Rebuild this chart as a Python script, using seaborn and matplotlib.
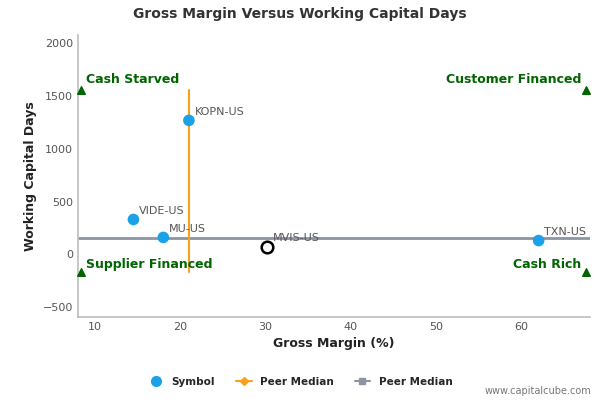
import matplotlib
matplotlib.use("Agg")
import matplotlib.pyplot as plt
import seaborn as sns
import pandas as pd
from matplotlib.lines import Line2D

symbols = ["KOPN-US", "VIDE-US", "MU-US", "TXN-US"]
gross_margin = [21.0, 14.5, 18.0, 62.0]
wc_days = [1270, 330, 160, 130]
focus_symbol = "MVIS-US"
focus_margin = 30.2
focus_days = 70
median_margin = 21.0
median_days = 155
quad_labels = ["Cash Starved", "Customer Financed", "Supplier Financed", "Cash Rich"]

sns.set_theme(style="white")
fig = plt.figure(figsize=(6, 4), dpi=100)
ax = fig.add_axes([0.13, 0.2075, 0.853, 0.705])
df = pd.DataFrame({"gm": gross_margin, "wc": wc_days, "sym": symbols})
xmin, xmax, ymin, ymax = 8.0, 68.0, -595, 2080
ax.set_xlim(xmin, xmax); ax.set_ylim(ymin, ymax)

ax.plot([xmin, xmax], [median_days]*2, color="#8d94a3", lw=2, zorder=1)
ax.plot([median_margin]*2, [-170, 1560], color="#f7a21b", lw=1.5, zorder=1)
sns.scatterplot(data=df, x="gm", y="wc", ax=ax, color="#1aa1e8", s=70, edgecolor="none", zorder=3, legend=False)
ax.scatter([focus_margin], [focus_days], s=70, facecolor="white", edgecolor="black", lw=1.8, zorder=3)
for x, y, s in zip(gross_margin + [focus_margin], wc_days + [focus_days], symbols + [focus_symbol]):
    ax.annotate(s, (x, y), xytext=(4, 4), textcoords="offset points", fontsize=8, color="#555555")

green = "#006400"
cx = [8.4, 67.6, 8.4, 67.6]; cy = [1560, 1560, -170, -170]
ax.scatter(cx, cy, marker="^", color=green, s=30, zorder=3, clip_on=False)
ax.text(8.9, 1620, quad_labels[0], color=green, fontsize=9, fontweight="bold", ha="left")
ax.text(67.0, 1620, quad_labels[1], color=green, fontsize=9, fontweight="bold", ha="right")
ax.text(8.9, -130, quad_labels[2], color=green, fontsize=9, fontweight="bold", ha="left")
ax.text(67.0, -130, quad_labels[3], color=green, fontsize=9, fontweight="bold", ha="right")

ax.set_xticks([10, 20, 30, 40, 50, 60]); ax.set_yticks([-500, 0, 500, 1000, 1500, 2000])
ax.tick_params(labelsize=8, colors="#555555", length=0)
for sp in ["top", "right"]:
    ax.spines[sp].set_visible(False)
for sp in ["left", "bottom"]:
    ax.spines[sp].set_color("#c0c0c0")
ax.set_xlabel("Gross Margin (%)", fontsize=9, fontweight="bold", color="#222222")
ax.set_ylabel("Working Capital Days", fontsize=9, fontweight="bold", color="#222222")
fig.text(0.5, 0.955, "Gross Margin Versus Working Capital Days", ha="center", fontsize=10, fontweight="bold", color="#333333")

handles = [Line2D([], [], marker="o", ls="none", color="#1aa1e8", ms=7),
           Line2D([], [], marker="D", color="#f7a21b", ms=4),
           Line2D([], [], marker="s", color="#8d94a3", ms=5)]
fig.legend(handles, ["Symbol", "Peer Median", "Peer Median"], loc="center", bbox_to_anchor=(0.5, 0.045),
           ncol=3, frameon=False, prop={"size": 7.5, "weight": "bold"}, handlelength=1.5, columnspacing=2)
fig.text(0.985, 0.015, "www.capitalcube.com", ha="right", fontsize=7, color="#777777")
fig.savefig("out.png", dpi=100)
